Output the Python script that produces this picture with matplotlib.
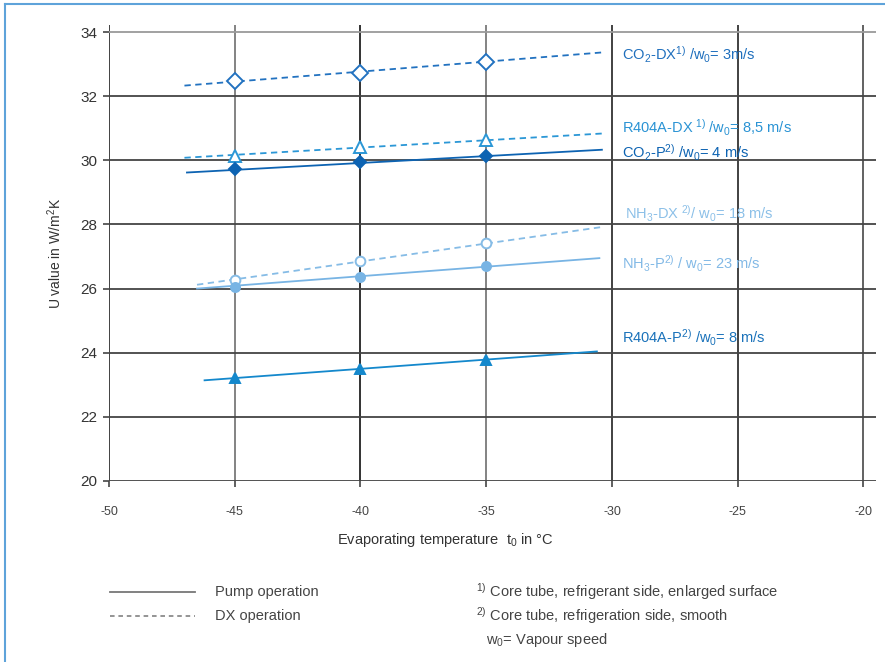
import matplotlib

matplotlib.use("Agg")

import matplotlib.pyplot as plt
from matplotlib.lines import Line2D

plt.rcParams["font.family"] = ["Liberation Sans", "DejaVu Sans"]
plt.rcParams["mathtext.default"] = "regular"
plt.rcParams["axes.unicode_minus"] = False

# measured points (evaporating temperature in degC)
temps = [-45, -40, -35]
# trend line ends
line_x = {"start": [-47.0, -47.0, -46.9, -46.5, -46.5, -46.2],
          "end": [-30.3, -30.3, -30.4, -30.4, -30.5, -30.6]}

co2_dx = [32.47, 32.73, 33.08]
r404a_dx = [30.13, 30.40, 30.63]
co2_p = [29.73, 29.94, 30.14]
nh3_dx = [26.27, 26.87, 27.43]
nh3_p = [26.05, 26.36, 26.71]
r404a_p = [23.21, 23.49, 23.78]

trend_start = [32.33, 30.08, 29.62, 26.12, 26.00, 23.14]
trend_end = [33.37, 30.84, 30.33, 27.92, 26.95, 24.04]

series = [
    (co2_dx, "--", "D", "white", "#2272c0", r"CO$_2$-DX$^{1)}$ /w$_0$= 3m/s"),
    (r404a_dx, "--", "^", "white", "#2b97d6", r"R404A-DX$^{\ 1)}$ /w$_0$= 8,5 m/s"),
    (co2_p, "-", "D", None, "#0d63b2", r"CO$_2$-P$^{2)}$ /w$_0$= 4 m/s"),
    (nh3_dx, "--", "o", "white", "#86bce6", r"NH$_3$-DX$^{\ 2)}$/ w$_0$= 18 m/s"),
    (nh3_p, "-", "o", None, "#78b4e4", r"NH$_3$-P$^{2)}$ / w$_0$= 23 m/s"),
    (r404a_p, "-", "^", None, "#1488cc", r"R404A-P$^{2)}$ /w$_0$= 8 m/s"),
]
label_color = ["#1f6fbd", "#2a93d4", "#0d63b2", "#8cc0e8", "#82b9e6", "#1a72ba"]
marker_size = [8.5, 8, 6.5, 7, 6.5, 7.5]

fig = plt.figure(figsize=(8.85, 6.62), dpi=100)
ax = fig.add_axes([109 / 885, 1 - 481 / 662, (876 - 109) / 885, (481 - 25) / 662])

ax.set_xlim(-50, -19.5)
ax.set_ylim(20, 34.22)
ax.set_xticks(range(-50, -19, 5))
ax.set_yticks(range(20, 35, 2))
for s in ax.spines.values():
    s.set_visible(False)
ax.grid(True, lw=1.3, color="#333333")
ax.set_axisbelow(True)
vcols = ["#333333", "#7a7a7a", "#222222", "#7a7a7a", "#333333", "#333333", "#555555"]
for gl, c in zip(ax.get_xgridlines(), vcols):
    gl.set_color(c)
hcols = ["#444444"] * 7 + ["#9a9a9a"]
for gl, c in zip(ax.get_ygridlines(), hcols):
    gl.set_color(c)
ax.tick_params(axis="x", direction="out", length=4, width=1.2, color="#444444",
               pad=14, labelsize=9, labelcolor="#444444")
ax.tick_params(axis="y", direction="out", length=4.5, width=1.2, color="#444444",
               pad=4, labelsize=11, labelcolor="#333333")

for i, (vals, ls, mk, face, col, text) in enumerate(series):
    ax.plot([line_x["start"][i], line_x["end"][i]], [trend_start[i], trend_end[i]],
            ls=ls, color=col, lw=1.3, dashes=(3.5, 2.5) if ls == "--" else (None, None))
    ax.plot(temps, vals, ls="none", marker=mk, ms=marker_size[i],
            mfc=face if face else col, mec=col, mew=1.4, zorder=4)

label_y = [33.28, 31.0, 30.22, 28.33, 26.77, 24.46]
label_x = [-29.6, -29.6, -29.6, -29.5, -29.6, -29.6]
for (vals, ls, mk, face, col, text), tx, ty, lc in zip(series, label_x, label_y, label_color):
    ax.text(tx, ty, text, fontsize=10.5, color=lc, va="center", ha="left")

ax.set_ylabel(r"U value in W/m$^2$K", fontsize=10, color="#333333", labelpad=12)
fig.text(445 / 885, 1 - 540 / 662, r"Evaporating temperature  t$_0$ in °C",
         fontsize=10.5, color="#333333", ha="center", va="center")

# legend for line styles and footnotes
fig.add_artist(Line2D([110 / 885, 195 / 885], [1 - 592 / 662] * 2, color="#777777", lw=1.3))
fig.add_artist(Line2D([110 / 885, 195 / 885], [1 - 616 / 662] * 2, color="#777777", lw=1.1,
                      dashes=(3, 2.5)))
leg_font = dict(fontsize=10.5, color="#444444", va="center", ha="left")
fig.text(215 / 885, 1 - 592 / 662, "Pump operation", **leg_font)
fig.text(215 / 885, 1 - 616 / 662, "DX operation", **leg_font)
fig.text(476 / 885, 1 - 592 / 662, r"$^{1)}$ Core tube, refrigerant side, enlarged surface", **leg_font)
fig.text(476 / 885, 1 - 616 / 662, r"$^{2)}$ Core tube, refrigeration side, smooth", **leg_font)
fig.text(486 / 885, 1 - 640 / 662, r"w$_0$= Vapour speed", **leg_font)

# frame
fig.add_artist(Line2D([5 / 885, 1.0], [1 - 4 / 662] * 2, color="#5ea3da", lw=1.5))
fig.add_artist(Line2D([5 / 885, 5 / 885], [0, 1 - 4 / 662], color="#5ea3da", lw=1.5))

fig.savefig("out.png", dpi=100)
plt.close(fig)
